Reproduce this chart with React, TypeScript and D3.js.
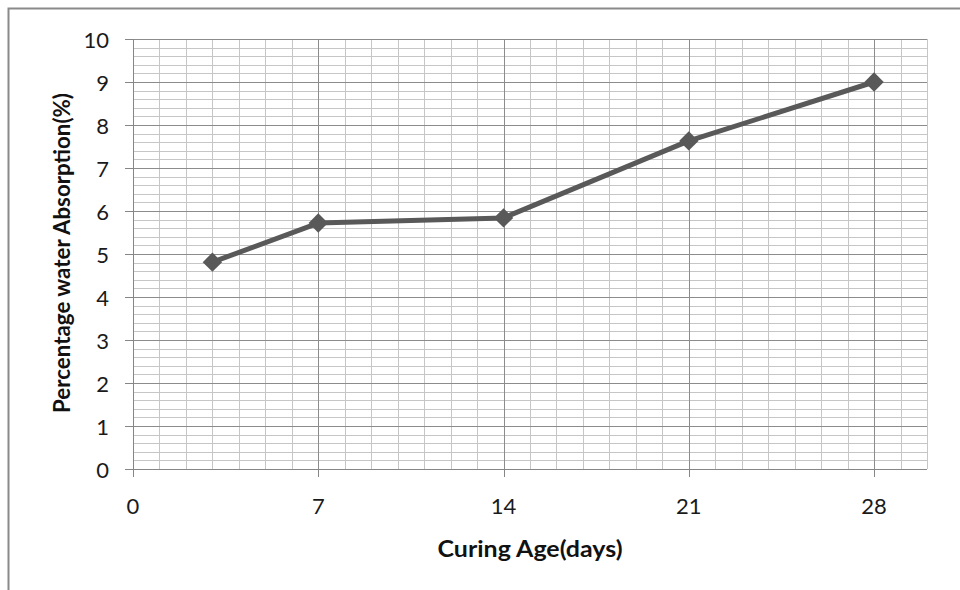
import * as d3 from "d3";
import { useEffect, useRef } from "react";

const curingDays = [3, 7, 14, 21, 28];
const absorption = [4.81, 5.72, 5.84, 7.63, 9.0];
const xTickValues = [0, 7, 14, 21, 28];
const yTickValues = [0, 1, 2, 3, 4, 5, 6, 7, 8, 9, 10];

const W = 960;
const H = 590;
const FONT = "Lato, 'Open Sans', sans-serif";

const App = () => {
  const svgRef = useRef<SVGSVGElement>(null);

  useEffect(() => {
    const svgEl = svgRef.current;
    if (!svgEl) return;
    const svg = d3.select(svgEl);
    svg.selectAll("*").remove();

    const plot = { left: 133, top: 39, right: 927, bottom: 469 };
    const x = d3.scaleLinear().domain([0, 30]).range([plot.left, plot.right]);
    const y = d3.scaleLinear().domain([0, 10]).range([plot.bottom, plot.top]);

    svg.append("rect").attr("width", W).attr("height", H).attr("fill", "#fff");

    // outer chart frame (cropped at right / bottom)
    svg
      .append("rect")
      .attr("x", 8.5)
      .attr("y", 8.5)
      .attr("width", W + 20)
      .attr("height", H + 20)
      .attr("fill", "none")
      .attr("stroke", "#8a8a8a")
      .attr("stroke-width", 2);

    const g = svg.append("g").attr("shape-rendering", "crispEdges");

    // minor grid: every day, every 0.2 %
    const minorX = d3.range(1, 31).filter((v) => v % 7 !== 0);
    const minorY = d3
      .range(1, 51)
      .map((v) => v / 5)
      .filter((v) => Math.abs(v - Math.round(v)) > 1e-6);
    g.selectAll("line.mx")
      .data(minorX)
      .enter()
      .append("line")
      .attr("x1", (d) => Math.round(x(d)) + 0.5)
      .attr("x2", (d) => Math.round(x(d)) + 0.5)
      .attr("y1", plot.top)
      .attr("y2", plot.bottom)
      .attr("stroke", "#c6c6c6")
      .attr("stroke-width", 1.5);
    g.selectAll("line.my")
      .data(minorY)
      .enter()
      .append("line")
      .attr("x1", plot.left)
      .attr("x2", plot.right)
      .attr("y1", (d) => Math.round(y(d)) + 0.5)
      .attr("y2", (d) => Math.round(y(d)) + 0.5)
      .attr("stroke", "#c6c6c6")
      .attr("stroke-width", 1.5);

    // major grid
    g.selectAll("line.Mx")
      .data(xTickValues.slice(1))
      .enter()
      .append("line")
      .attr("x1", (d) => Math.round(x(d)) + 0.5)
      .attr("x2", (d) => Math.round(x(d)) + 0.5)
      .attr("y1", plot.top)
      .attr("y2", plot.bottom)
      .attr("stroke", "#8c8c8c")
      .attr("stroke-width", 1);
    g.selectAll("line.My")
      .data(yTickValues.slice(1))
      .enter()
      .append("line")
      .attr("x1", plot.left)
      .attr("x2", plot.right)
      .attr("y1", (d) => Math.round(y(d)) + 0.5)
      .attr("y2", (d) => Math.round(y(d)) + 0.5)
      .attr("stroke", "#8c8c8c")
      .attr("stroke-width", 1);

    // axes + outward ticks
    g.append("line")
      .attr("x1", plot.left + 0.5)
      .attr("x2", plot.left + 0.5)
      .attr("y1", plot.top)
      .attr("y2", plot.bottom)
      .attr("stroke", "#868686");
    g.append("line")
      .attr("x1", plot.left)
      .attr("x2", plot.right)
      .attr("y1", plot.bottom + 0.5)
      .attr("y2", plot.bottom + 0.5)
      .attr("stroke", "#868686");
    g.selectAll("line.ty")
      .data(yTickValues)
      .enter()
      .append("line")
      .attr("x1", plot.left - 8)
      .attr("x2", plot.left)
      .attr("y1", (d) => Math.round(y(d)) + 0.5)
      .attr("y2", (d) => Math.round(y(d)) + 0.5)
      .attr("stroke", "#868686");
    g.selectAll("line.tx")
      .data(xTickValues)
      .enter()
      .append("line")
      .attr("x1", (d) => Math.round(x(d)) + 0.5)
      .attr("x2", (d) => Math.round(x(d)) + 0.5)
      .attr("y1", plot.bottom)
      .attr("y2", plot.bottom + 8)
      .attr("stroke", "#868686");

    // tick labels
    svg
      .selectAll("text.ly")
      .data(yTickValues)
      .enter()
      .append("text")
      .attr("x", 109)
      .attr("y", (d) => y(d))
      .attr("text-anchor", "end")
      .attr("dominant-baseline", "central")
      .attr("fill", "#1a1a1a")
      .style("font", `22px ${FONT}`)
      .text((d) => String(d));
    svg
      .selectAll("text.lx")
      .data(xTickValues)
      .enter()
      .append("text")
      .attr("x", (d) => x(d))
      .attr("y", 505)
      .attr("text-anchor", "middle")
      .attr("dominant-baseline", "central")
      .attr("fill", "#1a1a1a")
      .style("font", `22px ${FONT}`)
      .text((d) => String(d));

    // axis titles
    svg
      .append("text")
      .attr("x", 530)
      .attr("y", 548)
      .attr("text-anchor", "middle")
      .attr("dominant-baseline", "central")
      .attr("textLength", 185)
      .attr("lengthAdjust", "spacingAndGlyphs")
      .attr("fill", "#111")
      .style("font", `bold 23px ${FONT}`)
      .text("Curing Age(days)");
    svg
      .append("text")
      .attr("transform", `translate(61,253) rotate(-90)`)
      .attr("text-anchor", "middle")
      .attr("dominant-baseline", "central")
      .attr("textLength", 320)
      .attr("lengthAdjust", "spacingAndGlyphs")
      .attr("fill", "#111")
      .style("font", `bold 23px ${FONT}`)
      .text("Percentage water Absorption(%)");

    // series
    const pts = curingDays.map((d, i) => [d, absorption[i]] as [number, number]);
    const line = d3
      .line<[number, number]>()
      .x((d) => x(d[0]))
      .y((d) => y(d[1]));
    svg
      .append("path")
      .attr("d", line(pts))
      .attr("fill", "none")
      .attr("stroke", "#595959")
      .attr("stroke-width", 5)
      .attr("stroke-linejoin", "round");
    const diamond = d3.symbol(d3.symbolDiamond2, 240);
    svg
      .selectAll("path.mk")
      .data(pts)
      .enter()
      .append("path")
      .attr("d", diamond())
      .attr("transform", (d) => `translate(${x(d[0])},${y(d[1])})`)
      .attr("fill", "#595959");
  }, []);

  return (
    <svg
      ref={svgRef}
      width={W}
      height={H}
      style={{ position: "absolute", left: 0, top: 0 }}
    />
  );
};

export default App;
